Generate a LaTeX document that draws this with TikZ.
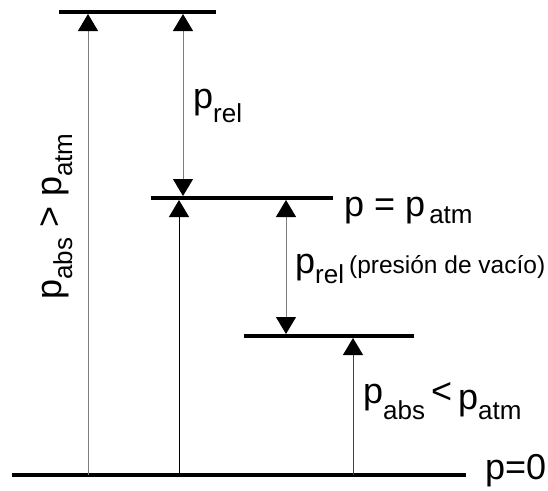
\documentclass[tikz,border=0pt]{standalone}
\usepackage{fontspec}
\setmainfont{Liberation Sans}
\usepackage{tikz}
\usetikzlibrary{arrows.meta,positioning}
\definecolor{linegray}{RGB}{125,125,125}
\newcommand{\lowsub}[2]{\raisebox{-#1}{\fontsize{26}{26}\selectfont #2}}

\begin{document}
\begin{tikzpicture}[x=1pt,y=-1pt,
  level/.style={line width=3.5pt},
  arr/.style={line width=1pt,linegray,-{Triangle[length=17pt,width=20pt,black]}},
  darr/.style={arr,{Triangle[length=17pt,width=20pt,black]}-{Triangle[length=17pt,width=20pt,black]}},
  lab/.style={inner sep=0pt,anchor=base west,font=\fontsize{36}{40}\selectfont}]
  \useasboundingbox (0,0) rectangle (548,490);
  % four levels: top, p_atm, vacuum, p=0
  \coordinate (top-w) at (59,12);   \coordinate (top-e) at (216,12);
  \coordinate (atm-w) at (151,198); \coordinate (atm-e) at (333,198);
  \coordinate (vac-w) at (244,336); \coordinate (vac-e) at (414,336);
  \coordinate (zero-w) at (12,475); \coordinate (zero-e) at (466,475);
  \foreach \lv in {top,atm,vac,zero}
    \draw[level] (\lv-w) -- (\lv-e);
  % arrow end points
  \coordinate (a1-foot) at (88,475);  \coordinate (a1-tip) at (88,14);
  \coordinate (a2-up) at (183,14);    \coordinate (a2-dn) at (183,196);
  \coordinate (a3-foot) at (179,475); \coordinate (a3-tip) at (179,200);
  \coordinate (a4-up) at (286,200);   \coordinate (a4-dn) at (286,334);
  \coordinate (a5-foot) at (353,475); \coordinate (a5-tip) at (353,338);
  \draw[arr] (a1-foot) -- (a1-tip);
  \draw[darr] (a2-up) -- (a2-dn);
  \draw[arr,black] (a3-foot) -- (a3-tip);
  \draw[darr] (a4-up) -- (a4-dn);
  \draw[arr,black!75] (a5-foot) -- (a5-tip);
  % labels
  \node[lab] (prel-hi) at (193,108) {p\lowsub{14pt}{rel}};
  \node[lab] (patm) at (344,216) {p = p\hspace{4pt}\lowsub{7pt}{atm}};
  \node[lab] (prel-lo) at (295,273) {p\lowsub{10pt}{rel}\hspace{5pt}{\fontsize{24.5}{25}\selectfont(presión de vacío)}};
  \node[lab] (pabs-lo) at (363,403) {p\lowsub{16pt}{abs}\,<\,\raisebox{-6pt}{p}\lowsub{16pt}{atm}};
  \node[lab,rotate=90] (pabs-hi) at (61,300) {p\lowsub{11pt}{abs} > p\lowsub{11pt}{atm}};
  \node[lab] (p0) at (485,479) {p=0};
\end{tikzpicture}
\end{document}
